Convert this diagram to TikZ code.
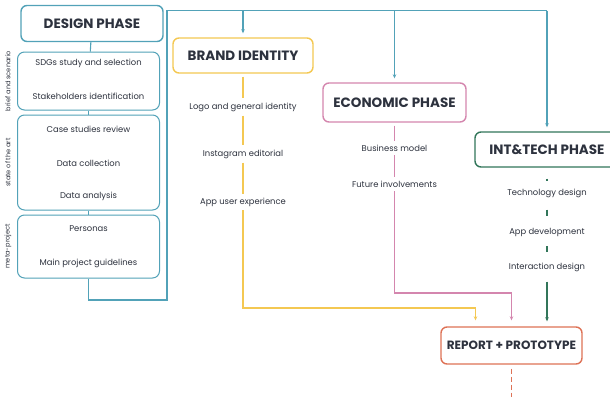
\documentclass[tikz,border=0pt]{standalone}
\usepackage{fontspec}
\setmainfont{Poppins}
\usetikzlibrary{arrows.meta,calc}

\definecolor{designc}{RGB}{82,162,184}
\definecolor{brandc}{RGB}{244,200,82}
\definecolor{econc}{RGB}{212,134,174}
\definecolor{techc}{RGB}{50,118,90}
\definecolor{reportc}{RGB}{222,114,86}
\definecolor{ink}{RGB}{45,50,62}

\tikzset{
  phase/.style={draw=#1, line width=1.4pt, rounded corners=6pt, text=ink, inner sep=0pt,
    font=\fontsize{13.5}{15}\selectfont\bfseries},
  stagebox/.style={draw=designc, line width=1pt, rounded corners=7pt, minimum width=142pt},
  item/.style={text=ink, inner xsep=2pt, inner ysep=4pt, font=\fontsize{8.4}{9}\selectfont},
  side/.style={rotate=90, text=ink, font=\fontsize{6.6}{8}\selectfont},
  flow/.style={draw=#1, line width=1.1pt},
  link/.style={draw=#1, line width=1.1pt, -{Stealth[length=4pt,width=3.5pt]}},
  tick/.style={shorten <=#1, shorten >=#1}
}

\begin{document}
\begin{tikzpicture}[x=1pt,y=-1pt]
\clip (0,0) rectangle (610,397);
\fill[white] (0,0) rectangle (610,397);

%design phase
\node[phase=designc, minimum width=142pt, minimum height=36pt] (design) at (92,23.5) {DESIGN PHASE};
\node[stagebox, minimum height=58pt] (brief) at (88.5,81) {};
\node[stagebox, minimum height=95pt] (state) at (88.5,162.5) {};
\node[stagebox, minimum height=63pt] (meta) at (88.5,246.5) {};
\node[side] (lbrief) at (8,81) {brief and scenario};
\node[side] (lstate) at (8,162.5) {state of the art};
\node[side] (lmeta) at (8,246.5) {meta-project};
\node[item] (sdgs) at (88.5,63) {SDGs study and selection};
\node[item] (stake) at (88.5,96) {Stakeholders identification};
\node[item] (cases) at (88.5,129) {Case studies review};
\node[item] (collect) at (88.5,163) {Data collection};
\node[item] (analysis) at (88.5,196) {Data analysis};
\node[item] (personas) at (88.5,229) {Personas};
\node[item] (guide) at (88.5,263) {Main project guidelines};

\draw[flow=designc] (design) -- (brief);
\draw[flow=designc] (brief) -- (state);
\draw[flow=designc] (state) -- (meta);

%the other phases
\node[phase=brandc, minimum width=140pt, minimum height=35pt] (brand) at (243,55.5) {BRAND IDENTITY};
\node[phase=econc, minimum width=143pt, minimum height=39pt] (econ) at (394.5,102.5) {ECONOMIC PHASE};
\node[phase=techc, minimum width=144pt, minimum height=35pt] (tech) at (547,149.5) {INT\&TECH PHASE};
\node[phase=reportc, minimum width=141pt, minimum height=37pt,
  font=\fontsize{12}{14}\selectfont\bfseries] (report) at (511.5,345.5) {REPORT + PROTOTYPE};

\coordinate (corner) at (167,300);
\coordinate (top) at (167,10.7);
\coordinate (topend) at (547,10.7);
\draw[flow=designc] (meta) |- (corner) -- (top) -- (topend);
\draw[link=designc, shorten >=4pt] (brand.north |- top) -- (brand);
\draw[link=designc, shorten >=4pt] (econ.north |- top) -- (econ);
\draw[link=designc, shorten >=4pt] (topend) -- (tech);

%brand identity
\node[item] (logo) at (243,107) {Logo and general identity};
\node[item] (insta) at (243,154) {Instagram editorial};
\node[item] (appux) at (243,202) {App user experience};
\draw[flow=brandc, shorten <=3pt] (brand) -- (logo);
\draw[flow=brandc] (logo) -- (insta);
\draw[flow=brandc] (insta) -- (appux);
\draw[link=brandc, shorten >=6pt] (appux) |- (300,308) -| ([xshift=-36pt]report.north);

%economic phase
\node[item] (business) at (394.5,148) {Business model};
\node[item] (future) at (394.5,184) {Future involvements};
\draw[flow=econc, shorten <=3pt] (econ) -- (business);
\draw[flow=econc] (business) -- (future);
\draw[link=econc, shorten >=6pt] (future) |- (450,293) -| (report);

%int&tech phase
\node[item] (techdes) at (547,193) {Technology design};
\node[item] (appdev) at (547,232) {App development};
\node[item] (interact) at (547,267) {Interaction design};
\draw[flow=techc, shorten <=11pt, shorten >=3pt] (tech) -- (techdes);
\draw[flow=techc, tick=8pt] (techdes) -- (appdev);
\draw[flow=techc, tick=6pt] (appdev) -- (interact);
\draw[link=techc, shorten <=6pt, shorten >=5pt] (interact) -- (interact |- report.north);

%report
\coordinate (exit) at (511.5,397);
\draw[flow=reportc, line width=1.7pt, dash pattern=on 5pt off 3pt, shorten <=4pt] (report) -- (exit);
\end{tikzpicture}
\end{document}
